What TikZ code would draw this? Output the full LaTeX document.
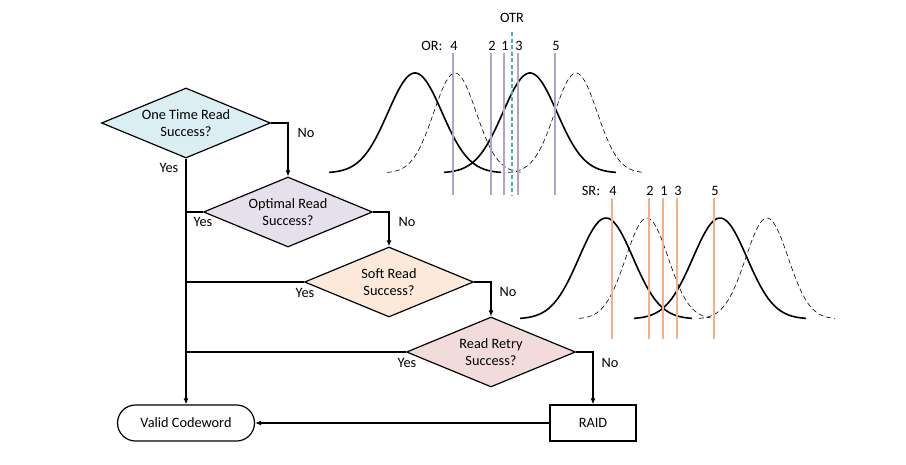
\documentclass[tikz,border=0pt]{standalone}
\usepackage{fontspec}
\setmainfont{Carlito}
\usetikzlibrary{shapes.geometric,arrows.meta}
\definecolor{cA}{HTML}{DAEEF3}
\definecolor{cB}{HTML}{E6E0EC}
\definecolor{cC}{HTML}{FDE9D9}
\definecolor{cD}{HTML}{F2DCDB}
\definecolor{lav}{HTML}{B3A2C7}
\definecolor{org}{HTML}{F4B183}
\definecolor{cya}{HTML}{4BACC6}
\begin{document}
\begin{tikzpicture}[x=1pt,y=-1pt,
  font=\fontsize{14.3pt}{17pt}\selectfont,
  dec/.style={diamond, draw, line width=1.2pt, minimum width=169pt, minimum height=70pt, aspect=2.4, inner sep=0pt, align=center},
  term/.style={draw, line width=1.2pt, minimum width=137pt, minimum height=36pt, rounded corners=18pt},
  boxnode/.style={draw, line width=1.2pt, minimum width=86pt, minimum height=36pt},
  flow/.style={line width=1.2pt},
  arr/.style={flow, -{Latex[length=6pt,width=5pt]}},
  lbl/.style={inner sep=0pt},
  sol/.style={line width=1.6pt},
  dsh/.style={line width=0.6pt, dash pattern=on 5pt off 3pt},
  orl/.style={lav, line width=1.6pt},
  srl/.style={org, line width=1.6pt}]
\useasboundingbox (0,0) rectangle (906,464);

% ---------- flowchart ----------
\node[dec, fill=cA] (d1) at (186,123) {One Time Read\\Success?};
\node[dec, fill=cB] (d2) at (288,212) {Optimal Read\\Success?};
\node[dec, fill=cC] (d3) at (389,282) {Soft Read\\Success?};
\node[dec, fill=cD] (d4) at (491,352) {Read Retry\\Success?};
\node[term] (valid) at (186,423) {Valid Codeword};
\node[boxnode] (raid) at (593,423) {RAID};

\draw[arr] (d1.east) -| (d2.north);
\draw[arr] (d2.east) -| (d3.north);
\draw[arr] (d3.east) -| (d4.north);
\draw[arr] (d4.east) -| (raid.north);
\draw[arr] (raid.west) -- (valid.east);
\draw[arr] (d1.south) -- (valid.north);
\draw[flow] (d2.west) -- (d2.west -| d1.south);
\draw[flow] (d3.west) -- (d3.west -| d1.south);
\draw[flow] (d4.west) -- (d4.west -| d1.south);

\node[lbl] (y1) at (169,168) {Yes};
\node[lbl] (n1) at (306,133) {No};
\node[lbl] (y2) at (203,222) {Yes};
\node[lbl] (n2) at (407,222) {No};
\node[lbl] (y3) at (305,293) {Yes};
\node[lbl] (n3) at (508,292) {No};
\node[lbl] (y4) at (407,363) {Yes};
\node[lbl] (n4) at (610,363) {No};

% ---------- OR panel ----------
\foreach \p in {415,530}
  \draw[sol] plot[domain=-86:86,samples=90,smooth] ({\p+\x},{173-100*exp(-((\x)*(\x))/1458)});
\foreach \p in {455,576}
  \draw[dsh] plot[domain=-68:68,samples=70,smooth] ({\p+\x},{173-100*exp(-((\x)*(\x))/900)});
\foreach \v/\t in {453/4,491/2,504/1,518/3,555/5}{
  \draw[orl] (\v,53) -- (\v,195);
  \node[lbl] (or\t) at (\v+1,46) {\t};
}
\node[lbl] (orh) at (432,46) {OR:};
\draw[cya, line width=1.4pt, dash pattern=on 4pt off 2.5pt] (512,32) -- (512,195);
\node[lbl] (otr) at (512,18) {OTR};

% ---------- SR panel ----------
\foreach \p in {606,720}
  \draw[sol] plot[domain=-86:86,samples=90,smooth] ({\p+\x},{319-101*exp(-((\x)*(\x))/1458)});
\foreach \p in {647,767}
  \draw[dsh] plot[domain=-68:68,samples=70,smooth] ({\p+\x},{319-101*exp(-((\x)*(\x))/900)});
\foreach \v/\t in {612/4,649/2,663/1,677/3,714/5}{
  \draw[srl] (\v,198) -- (\v,339);
  \node[lbl] (sr\t) at (\v+1,191) {\t};
}
\node[lbl] (srh) at (591,191) {SR:};
\end{tikzpicture}
\end{document}
